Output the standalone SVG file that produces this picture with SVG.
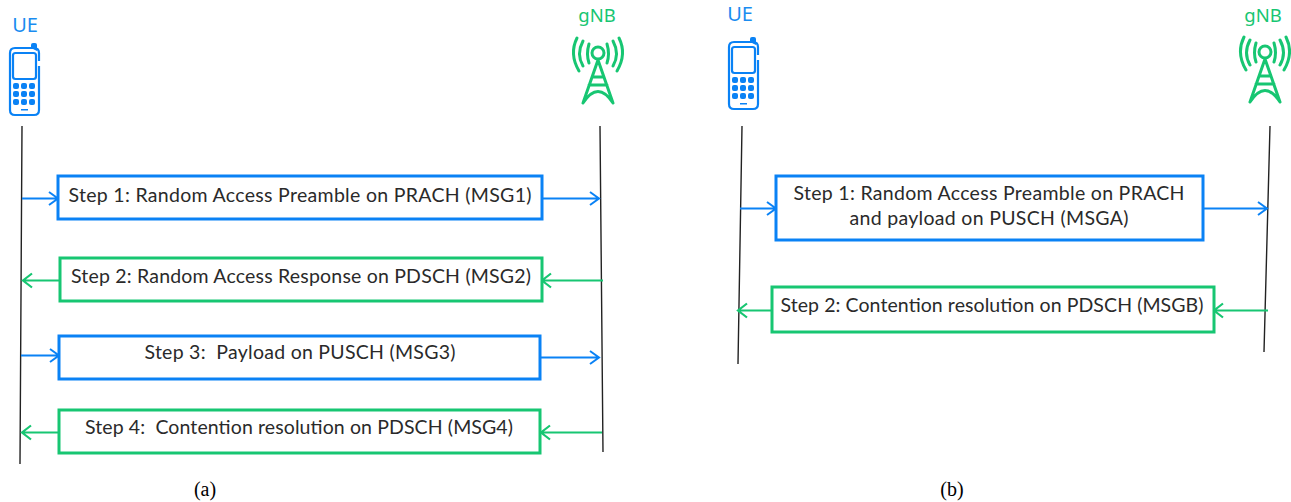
<svg xmlns="http://www.w3.org/2000/svg" width="1291" height="502" viewBox="0 0 1291 502">
<style>
text{font-family:"Lato","Noto Sans",sans-serif;font-size:19.500px;fill:#2a2a2a;text-anchor:middle}
.h{font-family:"Noto Sans",sans-serif;font-size:18.500px}
.ue{fill:#1a8cf0;font-size:20px}.gn{fill:#17c672}
.cap{font-family:"Liberation Serif",serif;font-size:20px;fill:#000}
.bb{fill:#fff;stroke:#0a82f5;stroke-width:3}
.gb{fill:#fff;stroke:#17c672;stroke-width:3}
.life{stroke:#222;stroke-width:1.4;fill:none}
.ba{stroke:#0a82f5;stroke-width:2;fill:none}
.ga{stroke:#17c672;stroke-width:2.200;fill:none}
.ic{fill:none;stroke:#17c672;stroke-width:3;stroke-linecap:round;stroke-linejoin:round}
.ip{fill:none;stroke:#0a82f5;stroke-width:2.200}
.k{fill:#0a82f5}
</style>
<defs>
<g id="phone">
<path class="ip" d="M40 60V52Q40 47 35 47H16Q11 47 11 52V109Q11 114 16 114H35Q40 114 40 109V65"/>
<path d="M32 47V44Q32 42 34 42H36Q38 42 38 44V50Z" class="k"/>
<rect x="14" y="52" width="23" height="26" rx="2.5" class="ip"/>
<g class="k"><rect x="14" y="82" width="6" height="6" rx="2"/><rect x="22" y="82" width="6" height="6" rx="2"/><rect x="30" y="82" width="6" height="6" rx="2"/><rect x="14" y="90" width="6" height="6" rx="2"/><rect x="22" y="90" width="6" height="6" rx="2"/><rect x="30" y="90" width="6" height="6" rx="2"/><rect x="14" y="98" width="6" height="6" rx="2"/><rect x="22" y="98" width="6" height="6" rx="2"/><rect x="30" y="98" width="6" height="6" rx="2"/><rect x="22" y="108" width="7" height="1.5"/></g>
</g>
<g id="tower">
<circle cx="598" cy="53" r="6" class="ic"/>
<path class="ic" d="M589 44Q586 54 589 63M607 44Q610 54 607 63M583 41Q576 54 583 66M613 41Q620 54 613 66M577 38Q569 54 579 71M619 38Q627 54 617 71"/>
<path class="ic" d="M598 60L583 103M598 60L613 103M592 77H604M589 85H607M583 103Q598 80 613 103"/>
</g>
</defs>
<g id="connectors">
<path class="life" d="M22 126L20 464M600 126L603 452M742 126L738 364M1270 126L1264 352"/>
<path class="ba" d="M22 198.500H57M49 192L58 198.500L49 205M541 198.500H598M590 192L599 198.500L590 205"/>
<path class="ga" d="M60 280.500H23M32 273.500L23 280.500L32 287.500M603 280.500H542M551 273.500L542 280.500L551 287.500"/>
<path class="ba" d="M21 355.500H58M50 349L59 355.500L50 362M540 357.500H598M590 351L599 357.500L590 364"/>
<path class="ga" d="M59 432.500H22M31 425.500L22 432.500L31 439.500M602 432.500H541M550 425.500L541 432.500L550 439.500"/>
<path class="ba" d="M740 208.500H775M767 202L776 208.500L767 215M1203 208.500H1266M1258 202L1267 208.500L1258 215"/>
<path class="ga" d="M771 310.500H738M747 303.500L738 310.500L747 317.500M1268 310.500H1214M1223 303.500L1214 310.500L1223 317.500"/>
</g>
<g id="ue-a"><text class="h ue" x="25" y="32">UE</text><use href="#phone" x="-1" y="1"/></g>
<g id="gnb-a"><text class="h gn" x="597" y="22">gNB</text><use href="#tower"/></g>
<g id="ue-b"><text class="h ue" x="740" y="21">UE</text><use href="#phone" x="718" y="-5"/></g>
<g id="gnb-b"><text class="h gn" x="1263" y="22">gNB</text><use href="#tower" x="667" y="-1"/></g>
<g id="a1"><rect class="bb" x="58" y="176" width="484" height="43"/><text x="300" y="201.500" textLength="463">Step 1: Random Access Preamble on PRACH (MSG1)</text></g>
<g id="a2"><rect class="gb" x="60" y="258" width="482" height="43"/><text x="301" y="283" textLength="460">Step 2: Random Access Response on PDSCH (MSG2)</text></g>
<g id="a3"><rect class="bb" x="59" y="336" width="481" height="43"/><text x="300" y="359" textLength="311" xml:space="preserve">Step 3:  Payload on PUSCH (MSG3)</text></g>
<g id="a4"><rect class="gb" x="59" y="410" width="481" height="43"/><text x="299" y="434" textLength="428" xml:space="preserve">Step 4:  Contention resolution on PDSCH (MSG4)</text></g>
<g id="b1"><rect class="bb" x="776" y="176" width="427" height="64"/><text x="989" y="200" textLength="391">Step 1: Random Access Preamble on PRACH</text><text x="989" y="225" textLength="279">and payload on PUSCH (MSGA)</text></g>
<g id="b2"><rect class="gb" x="772" y="287" width="442" height="45"/><text x="992" y="312" textLength="423">Step 2: Contention resolution on PDSCH (MSGB)</text></g>
<text class="cap" x="205" y="496">(a)</text>
<text class="cap" x="952" y="496">(b)</text>
</svg>
